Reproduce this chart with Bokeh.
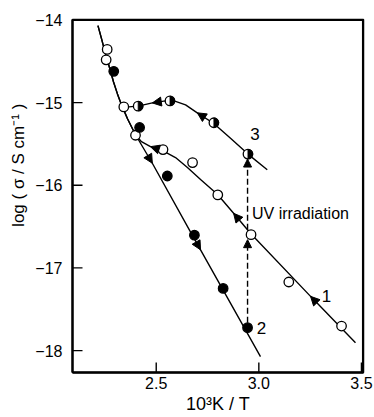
import numpy as np
from bokeh.plotting import figure
from bokeh.models import Range1d, Arrow, NormalHead, Label, FixedTicker
from bokeh.embed import file_html
from bokeh.resources import INLINE

# ---- data ----
# measured points
s1_x = [2.261, 2.256, 2.342, 2.399, 2.533, 2.677, 2.800, 2.962, 3.146, 3.403]          # open circles (1)
s1_y = [-14.357, -14.483, -15.052, -15.395, -15.569, -15.726, -16.117, -16.598, -17.170, -17.703]
s2_x = [2.293, 2.419, 2.554, 2.686, 2.826, 2.945]                                        # filled circles (2)
s2_y = [-14.622, -15.301, -15.888, -16.604, -17.248, -17.723]
s3_x = [2.412, 2.567, 2.781, 2.947]                                                      # half-filled (3)
s3_y = [-15.043, -14.980, -15.244, -15.623]

# drawn curves
c1_x = [2.216, 2.234, 2.253, 2.273, 2.292, 2.311, 2.331, 2.360, 2.399,
        2.428, 2.472, 2.531, 2.594, 2.652, 2.716, 2.799, 2.877, 2.959, 3.252, 3.471]
c1_y = [-14.069, -14.233, -14.414, -14.582, -14.751, -14.895, -15.028, -15.196, -15.389,
        -15.473, -15.533, -15.581, -15.665, -15.786, -15.930, -16.111, -16.339, -16.580, -17.344, -17.904]
c2_x = [2.216, 2.234, 2.253, 2.273, 2.292, 2.311, 2.331, 2.360, 2.399,
        2.481, 2.683, 2.716, 3.008]
c2_y = [-14.069, -14.233, -14.414, -14.582, -14.751, -14.895, -15.028, -15.196, -15.389,
        -15.734, -16.637, -16.781, -18.072]
c3_x = [2.331, 2.365, 2.412, 2.481, 2.545, 2.594, 2.643, 2.700, 2.779, 2.862, 2.947, 3.041]
c3_y = [-15.028, -15.052, -15.043, -15.004, -14.980, -14.986, -15.028, -15.124, -15.250, -15.431, -15.623, -15.813]

# arrowheads on curves: (tip index, tail index)
c1_arrows = [(10, 11), (16, 17), (18, 19)]
c2_arrows = [(9, 8), (11, 10)]
c3_arrows = [(3, 4), (7, 8)]

x_ticks = [2.5, 3.0, 3.5]
x_tick_labels = ["2.5", "3.0", "3.5"]
y_ticks = [-18, -17, -16, -15, -14]
y_tick_labels = ["\u221218", "\u221217", "\u221216", "\u221215", "\u221214"]

x_lim = (2.092, 3.51)
y_lim = (-18.265, -13.995)

FONT = "Liberation Sans"
W, H = 374, 417
BL, BR, BT, BB = 72, 11, 19, 45

p = figure(width=W, height=H,
           x_range=Range1d(*x_lim), y_range=Range1d(*y_lim),
           output_backend="svg", toolbar_location=None,
           min_border_left=BL, min_border_right=BR, min_border_top=BT, min_border_bottom=BB)

p.xgrid.visible = False
p.ygrid.visible = False
p.outline_line_color = "black"
p.outline_line_width = 1.5
p.background_fill_color = "white"
p.border_fill_color = "white"

xax = p.below[0]
yax = p.left[0]

for ax in (xax, yax):
    ax.axis_line_width = 2.4
    ax.axis_line_color = "black"
    ax.major_tick_in = 0
    ax.major_tick_out = 0
    ax.minor_tick_in = 0
    ax.minor_tick_out = 0
    ax.major_label_text_font = FONT
    ax.major_label_text_font_size = "16px"
    ax.major_label_text_color = "black"
    ax.axis_label_text_font = FONT
    ax.axis_label_text_font_style = "normal"
    ax.axis_label_text_color = "black"

xax.ticker = FixedTicker(ticks=x_ticks)
yax.ticker = FixedTicker(ticks=y_ticks)
xax.major_label_overrides = dict(zip(x_ticks, x_tick_labels))
yax.major_label_overrides = dict(zip(y_ticks, y_tick_labels))
xax.major_label_standoff = 4
yax.major_label_standoff = 10
xax.axis_label = "10\u00b3K / T"
xax.axis_label_text_font_size = "18px"
xax.axis_label_standoff = 2
yax.axis_label = "\u00a0" * 13 + "log ( \u03c3 / S cm\u207b\u00b9 )"
yax.axis_label_text_font_size = "17px"
yax.axis_label_standoff = 4

# pixel sizes in data units
px_x = (x_lim[1] - x_lim[0]) / (W - BL - BR)
px_y = (y_lim[1] - y_lim[0]) / (H - BT - BB)

# frame lines on top and right, drawn just inside the frame
top_y = y_lim[1] - 0.8 * px_y
right_x = x_lim[1] - 0.8 * px_x
p.segment(x0=[x_lim[0], right_x], y0=[top_y, y_lim[0]], x1=[x_lim[1], right_x], y1=[top_y, y_lim[1]],
          line_color="black", line_width=1.5)

# inward tick marks, 10 px long
TICK = 10
n_y, n_x = len(y_ticks), len(x_ticks)
p.segment(x0=[x_lim[0]] * n_y, y0=y_ticks, x1=[x_lim[0] + TICK * px_x] * n_y, y1=y_ticks,
          line_color="black", line_width=1.4)
p.segment(x0=x_ticks, y0=[y_lim[0]] * n_x, x1=x_ticks, y1=[y_lim[0] + TICK * px_y] * n_x,
          line_color="black", line_width=1.4)

# curves
LW = 1.4
p.line(c1_x, c1_y, line_color="black", line_width=LW)
p.line(c2_x, c2_y, line_color="black", line_width=LW)
p.line(c3_x, c3_y, line_color="black", line_width=LW)

# arrowheads along the curves
for cx, cy, arrows in ((c1_x, c1_y, c1_arrows), (c2_x, c2_y, c2_arrows), (c3_x, c3_y, c3_arrows)):
    for tip, tail in arrows:
        p.add_layout(Arrow(end=NormalHead(size=9, fill_color="black", line_color="black", line_width=1),
                           x_start=cx[tail], y_start=cy[tail], x_end=cx[tip], y_end=cy[tip],
                           line_alpha=0))

# dashed UV arrows (2 -> 1 -> 3)
r = 5.0 / 83.1
xd = s2_x[-1]
p.add_layout(Arrow(end=NormalHead(size=8, fill_color="black", line_color="black", line_width=1),
                   x_start=xd, y_start=s2_y[-1] + r, x_end=xd, y_end=s1_y[7] - r,
                   line_dash="6 3", line_width=1.4, line_color="black"))
p.add_layout(Arrow(end=NormalHead(size=8, fill_color="black", line_color="black", line_width=1),
                   x_start=xd, y_start=s1_y[7] + r, x_end=xd, y_end=s3_y[3] - r,
                   line_dash="6 3", line_width=1.4, line_color="black"))

# markers
MS = 9.5
p.scatter(s1_x, s1_y, size=MS, marker="circle", fill_color="white", line_color="black", line_width=1.3)
p.scatter(s2_x, s2_y, size=MS, marker="circle", fill_color="black", line_color="black", line_width=1.3)
p.scatter(s3_x, s3_y, size=MS, marker="circle", fill_color="white", line_color="black", line_width=1.3)
p.wedge(s3_x, s3_y, radius=MS / 2, radius_units="screen", start_angle=-np.pi / 2, end_angle=np.pi / 2,
        fill_color="black", line_color="black", line_width=0.8)

# curve labels
lab_kw = dict(text_font=FONT, text_font_size="17px", text_color="black",
              text_align="center", text_baseline="middle")
p.add_layout(Label(x=s1_x[-1], y=s1_y[-1], x_offset=-15, y_offset=30, text="1", **lab_kw))
p.add_layout(Label(x=s2_x[-1], y=s2_y[-1], x_offset=14, y_offset=0, text="2", **lab_kw))
p.add_layout(Label(x=s3_x[-1], y=s3_y[-1], x_offset=7, y_offset=20, text="3", **lab_kw))
p.add_layout(Label(x=s1_x[7], y=s1_y[7], x_offset=1, y_offset=21, text="UV irradiation",
                   text_font=FONT, text_font_size="16px", text_color="black",
                   text_align="left", text_baseline="middle"))

open("out.html", "w").write(file_html(p, INLINE))
